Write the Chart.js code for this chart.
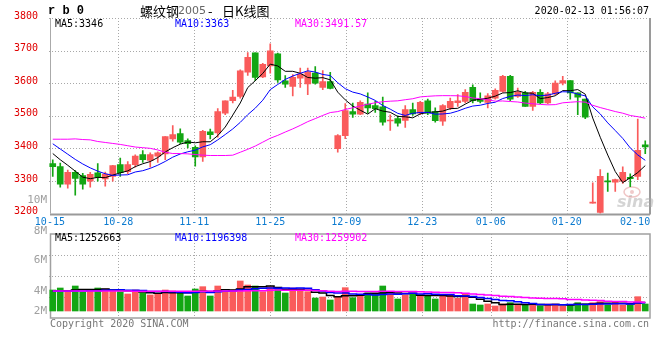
<!DOCTYPE html>
<html>
<head>
<meta charset="utf-8">
<script src="https://cdn.jsdelivr.net/npm/chart.js@4.4.1/dist/chart.umd.min.js"></script>
<style>
    html, body { margin: 0; padding: 0; background: #fff; }
    #wrap { position: relative; width: 660px; height: 360px; overflow: hidden; }
    #priceChart { position: absolute; left: 0; top: 0; }
    #volChart { position: absolute; left: 0; top: 190px; }
</style>
</head>
<body>
<div id="wrap">
    <canvas id="priceChart" width="660" height="230"></canvas>
    <canvas id="volChart" width="660" height="170"></canvas>
</div>
<script>
const dates = [
    "10-15","10-16","10-17","10-18","10-21","10-22","10-23","10-24","10-25","10-28","10-29","10-30","10-31",
    "11-01","11-04","11-05","11-06","11-07","11-08","11-11","11-12","11-13","11-14","11-15","11-18","11-19",
    "11-20","11-21","11-22","11-25","11-26","11-27","11-28","11-29",
    "12-02","12-03","12-04","12-05","12-06","12-09","12-10","12-11","12-12","12-13","12-16","12-17","12-18",
    "12-19","12-20","12-23","12-24","12-25","12-26","12-27","12-30","12-31",
    "01-02","01-03","01-06","01-07","01-08","01-09","01-10","01-13","01-14","01-15","01-16","01-17","01-20",
    "01-21","01-22","01-23",
    "02-03","02-04","02-05","02-06","02-07","02-10","02-11","02-12"
];
const tickDates = ["10-15","10-28","11-11","11-25","12-09","12-23","01-06","01-20","02-10"];

const openP = [
    3353,3344,3290,3326,3316,3299,3325,3306,3314,3350,3328,3350,3381,3363,3376,3383,3429,3445,3424,3403,
    3374,3451,3447,3508,3546,3559,3634,3693,3619,3653,3690,3607,3590,3615,3598,3631,3587,3605,3399,3439,
    3513,3505,3536,3531,3527,3484,3491,3486,3519,3508,3546,3513,3483,3524,3540,3544,3587,3551,3541,3554,
    3575,3621,3559,3570,3529,3572,3539,3567,3600,3608,3570,3551,3232,3203,3300,3296,3299,3311,3314,3411
];
const highP = [
    3365,3355,3333,3332,3323,3326,3353,3327,3348,3370,3359,3380,3393,3386,3389,3436,3470,3460,3429,3408,
    3455,3459,3522,3546,3578,3641,3694,3693,3661,3721,3692,3623,3626,3646,3646,3651,3639,3633,3442,3537,
    3539,3546,3570,3544,3557,3503,3500,3531,3539,3544,3551,3524,3534,3554,3565,3580,3595,3570,3568,3583,
    3624,3624,3585,3575,3575,3580,3572,3607,3621,3608,3570,3551,3294,3335,3324,3306,3343,3322,3490,3423
];
const lowP = [
    3314,3281,3278,3256,3275,3281,3299,3284,3299,3314,3322,3342,3357,3342,3357,3365,3422,3414,3401,3345,
    3360,3429,3434,3503,3539,3554,3624,3608,3617,3631,3602,3587,3561,3587,3565,3597,3580,3582,3388,3430,
    3495,3503,3508,3510,3471,3455,3468,3464,3501,3503,3503,3480,3470,3519,3529,3539,3539,3539,3524,3551,
    3572,3546,3556,3529,3516,3537,3536,3565,3595,3551,3503,3491,3232,3200,3268,3268,3292,3282,3304,3384
];
const closeP = [
    3344,3290,3326,3308,3290,3320,3311,3321,3347,3325,3350,3376,3365,3381,3386,3436,3442,3419,3414,3374,
    3452,3442,3513,3546,3557,3638,3679,3618,3658,3699,3610,3597,3618,3628,3634,3600,3605,3584,3439,3516,
    3505,3541,3524,3522,3480,3486,3477,3519,3506,3541,3508,3485,3531,3544,3546,3572,3546,3544,3561,3578,
    3621,3551,3572,3529,3572,3539,3567,3600,3608,3570,3557,3496,3233,3314,3297,3304,3326,3307,3394,3404
];

const ma5 = [
    3384,3365,3348,3330,3311.6,3306.8,3311,3310,3317.8,3324.8,3330.8,3343.8,3352.6,3359.4,3371.6,3388.8,
    3402,3412.8,3419.4,3417,3420.2,3420.2,3439,3465.4,3502,3539.2,3586.6,3607.6,3630,3658.4,3652.8,3636.4,
    3636.4,3630.4,3617.4,3615.4,3617,3610.2,3572.4,3548.8,3529.8,3517,3505,3521.6,3514.4,3510.6,3497.8,
    3496.8,3493.6,3505.8,3510.2,3511.8,3514.2,3521.8,3522.8,3535.6,3547.8,3550.4,3553.8,3560.2,3570,3571,
    3576.6,3570.2,3569,3552.6,3555.8,3561.4,3577.2,3576.8,3580.4,3566.2,3492.8,3434,3379.4,3328.8,3294.8,
    3309.6,3325.6,3347
];
const ma10 = [
    3414,3398,3382,3366,3352,3340,3330,3322,3317,3318.2,3318.8,3327.4,3331.3,3338.6,3348.2,3359.8,3372.9,
    3382.7,3389.4,3394.3,3404.5,3411.1,3425.9,3442.4,3459.5,3479.7,3503.4,3523.3,3547.7,3580.2,3596,3611.5,
    3622,3630.2,3637.9,3634.1,3626.7,3623.3,3601.4,3583.1,3572.6,3567,3557.6,3547,3531.6,3520.2,3507.4,
    3500.9,3507.6,3510.1,3510.4,3504.8,3505.5,3507.7,3514.3,3522.9,3529.8,3532.3,3537.8,3541.5,3552.8,
    3559.4,3563.5,3562,3564.6,3561.3,3563.4,3569,3573.7,3572.9,3566.5,3561,3527.1,3505.6,3478.1,3454.6,
    3430.5,3401.2,3379.8,3363.2
];
const ma30 = [
    3428,3428,3428,3429,3427,3426,3421,3418,3415,3412,3408,3404,3402,3400,3395,3388,3384,3384,3383,3381,
    3379,3378,3378,3378,3379,3388,3397,3407,3419,3430.9,3439.8,3450,3459.7,3470.4,3481.9,3491.2,3501,
    3509.8,3512.8,3519.2,3524.4,3529.9,3535.2,3539.9,3543,3544.7,3545.8,3549.2,3552.2,3557.8,3559.7,3561.1,
    3561.7,3561.6,3561.3,3559.1,3554.6,3552.2,3548.9,3544.9,3545.3,3543.7,3542.2,3538.9,3536.8,3534.8,
    3533.5,3534.1,3539.7,3541.5,3543.2,3541.7,3532,3525.1,3519,3512.9,3507.9,3500.8,3497.1,3492.5
];

// volume, in millions of lots
const volumeM = [
    3.15,3.45,2.90,3.75,2.80,3.15,3.45,3.30,3.00,2.90,2.55,3.15,2.65,2.40,2.55,3.15,3.00,2.65,2.25,3.30,
    3.65,2.25,3.75,2.90,3.15,4.50,3.90,3.75,2.90,3.65,3.40,2.70,3.45,3.05,2.90,1.95,2.10,1.65,2.15,3.50,
    2.00,2.50,2.75,2.50,3.75,2.65,1.80,2.40,2.65,2.40,2.30,1.80,2.40,2.40,1.90,2.50,1.05,0.90,1.05,0.75,
    1.05,1.25,0.90,0.90,1.00,0.80,1.05,1.05,0.75,0.90,1.25,1.05,1.25,1.40,0.90,1.30,0.90,0.90,2.15,1.05
];
const volMa5 = [
    3.0,3.0,3.05,3.15,3.21,3.21,3.21,3.29,3.14,3.16,3.04,2.98,2.85,2.73,2.66,2.78,2.75,2.75,2.72,2.87,
    2.97,2.82,3.04,3.17,3.14,3.31,3.64,3.64,3.64,3.74,3.52,3.28,3.22,3.25,3.10,2.81,2.69,2.33,2.15,2.27,
    2.28,2.36,2.58,2.65,2.70,2.83,2.69,2.62,2.65,2.38,2.31,2.31,2.31,2.26,2.16,2.20,2.05,1.75,1.48,1.25,
    0.96,1.00,1.00,0.97,1.02,0.97,0.93,0.96,0.93,0.91,1.00,1.00,1.04,1.17,1.17,1.18,1.15,1.08,1.23,1.26
];
const volMa10 = [
    2.95,2.95,2.95,3.0,3.0,3.05,3.05,3.1,3.15,3.19,3.13,3.10,3.07,2.94,2.91,2.91,2.87,2.80,2.73,2.77,
    2.88,2.79,2.90,2.95,3.01,3.14,3.23,3.34,3.41,3.44,3.42,3.46,3.43,3.45,3.42,3.17,2.99,2.78,2.70,2.69,
    2.55,2.53,2.46,2.40,2.49,2.56,2.53,2.60,2.65,2.54,2.57,2.50,2.47,2.46,2.27,2.26,2.18,2.03,1.87,1.71,
    1.58,1.53,1.38,1.23,1.14,0.97,0.97,0.98,0.95,0.97,0.99,0.97,1.00,1.05,1.04,1.09,1.08,1.06,1.20,1.22
];
const volMa30 = [
    3.0,3.0,3.0,3.0,3.0,3.0,3.0,3.0,3.0,3.0,3.0,2.95,2.95,2.95,2.95,2.95,2.95,2.95,2.95,2.95,
    2.95,3.0,3.0,3.0,3.0,3.0,3.05,3.05,3.05,3.13,3.14,3.11,3.13,3.11,3.11,3.07,3.03,2.97,2.94,2.96,
    2.95,2.92,2.93,2.93,2.97,2.95,2.91,2.91,2.92,2.89,2.84,2.83,2.78,2.77,2.73,2.66,2.56,2.47,2.41,2.31,
    2.23,2.18,2.10,2.03,1.96,1.93,1.89,1.87,1.82,1.74,1.71,1.66,1.61,1.58,1.48,1.44,1.41,1.36,1.34,1.30
];

const priceMA = ["MA5:3346", "MA10:3363", "MA30:3491.57"];
const volMA = ["MA5:1252663", "MA10:1196398", "MA30:1259902"];
const volLabels = ["10M", "8M", "6M", "4M", "2M"];

const RED = "#fa5b5b";
const GREEN = "#13a613";
const MA_COLORS = ["#000000", "#0000ff", "#ff00ff"];
const MONO = '"DejaVu Sans Mono", monospace';
const candleColors = closeP.map((c, i) => (c >= openP[i] ? RED : GREEN));
const tickIdx = tickDates.map((d) => dates.indexOf(d));
const gridIdx = tickIdx.slice(1, -1);

// sina places its date rules on a slightly wider pitch than the candles
const ruleX = (x, i) => x.getPixelForValue(i) - 2.85 + 0.1 * i;

const dottedLines = (ctx, segs) => {
    ctx.save();
    ctx.strokeStyle = "#a8a8a8";
    ctx.lineWidth = 1;
    ctx.setLineDash([1, 2]);
    ctx.beginPath();
    segs.forEach(([x1, y1, x2, y2]) => { ctx.moveTo(x1, y1); ctx.lineTo(x2, y2); });
    ctx.stroke();
    ctx.restore();
};

const writeText = (ctx, text, x, y, font, color, align = "left") => {
    ctx.font = font;
    ctx.fillStyle = color;
    ctx.textAlign = align;
    ctx.textBaseline = "middle";
    ctx.fillText(text, x, y);
};

const priceFrame = {
    id: "priceFrame",
    beforeDatasetsDraw(chart) {
        const { ctx, chartArea: a, scales: { x, y } } = chart;
        const segs = [[a.left, a.top + 0.5, a.right, a.top + 0.5]];
        y.ticks.forEach((t) => {
            if (t.value > y.min && t.value < y.max) {
                const py = Math.round(y.getPixelForValue(t.value)) + 0.5;
                segs.push([a.left, py, a.right, py]);
            }
        });
        gridIdx.forEach((i) => {
            const px = Math.round(ruleX(x, i)) + 0.5;
            segs.push([px, a.top, px, a.bottom]);
        });
        dottedLines(ctx, segs);

        ctx.save();
        ctx.strokeStyle = "#aaaaaa";
        ctx.lineWidth = 1;
        ctx.beginPath();
        ctx.moveTo(a.left + 1.5, a.top);
        ctx.lineTo(a.left + 1.5, a.bottom);
        ctx.stroke();
        ctx.strokeStyle = "#9a9a9a";
        ctx.lineWidth = 2;
        ctx.beginPath();
        ctx.moveTo(a.left + 1, a.bottom + 1);
        ctx.lineTo(a.right + 1, a.bottom + 1);
        ctx.moveTo(a.right + 1, a.top);
        ctx.lineTo(a.right + 1, a.bottom + 1);
        ctx.stroke();

        // sina watermark
        ctx.fillStyle = "rgba(170,170,170,0.5)";
        ctx.font = 'italic bold 16px "DejaVu Sans"';
        ctx.textAlign = "left";
        ctx.textBaseline = "alphabetic";
        ctx.fillText("sina", 617, 207);
        ctx.strokeStyle = "rgba(225,150,150,0.55)";
        ctx.lineWidth = 1.5;
        ctx.beginPath();
        ctx.ellipse(632, 192, 8, 5, 0, 0, Math.PI * 2);
        ctx.stroke();
        ctx.fillStyle = "rgba(225,150,150,0.5)";
        ctx.beginPath();
        ctx.arc(632, 192, 2, 0, Math.PI * 2);
        ctx.fill();
        ctx.restore();
    },
    afterDraw(chart) {
        const { ctx, chartArea: a, scales: { x } } = chart;
        ctx.save();
        writeText(ctx, "r b 0", 48, 11, 'bold 12px "Liberation Mono", monospace', "#000");
        writeText(ctx, "螺纹钢", 140, 11, '13px "Noto Sans CJK SC"', "#000");
        writeText(ctx, "2005", 178, 11, '11px "DejaVu Sans"', "#666");
        writeText(ctx, "-", 208, 11, '13px "Noto Sans CJK SC"', "#000");
        writeText(ctx, "日K线图", 222, 11, '13px "Noto Sans CJK SC"', "#000");
        writeText(ctx, "2020-02-13 01:56:07", 649, 11, `10px ${MONO}`, "#000", "right");
        [55, 175, 295].forEach((px, k) => writeText(ctx, priceMA[k], px, 24, `10px ${MONO}`, MA_COLORS[k]));
        tickIdx.forEach((i) => writeText(ctx, dates[i], ruleX(x, i), a.bottom + 8.5, `10px ${MONO}`, "#0c7bd0", "center"));
        ctx.restore();
    }
};

const volFrame = {
    id: "volFrame",
    beforeDatasetsDraw(chart) {
        const { ctx, chartArea: a, scales: { x } } = chart;
        const h = a.bottom - a.top;
        const segs = [1, 2, 3].map((k) => {
            const py = Math.round(a.top + (h * k) / 4) + 0.5;
            return [a.left, py, a.right, py];
        });
        gridIdx.forEach((i) => {
            const px = Math.round(ruleX(x, i)) + 0.5;
            segs.push([px, a.top, px, a.bottom]);
        });
        dottedLines(ctx, segs);
        ctx.save();
        ctx.strokeStyle = "#a0a0a0";
        ctx.lineWidth = 1.5;
        ctx.strokeRect(a.left + 1.5, a.top, a.right - a.left - 0.5, h);
        ctx.restore();
    },
    afterDraw(chart) {
        const { ctx, chartArea: a } = chart;
        ctx.save();
        [55, 175, 295].forEach((x, k) => writeText(ctx, volMA[k], x, a.top + 4.5, `10px ${MONO}`, MA_COLORS[k]));
        [-34, -3, 26, 57, 77].forEach((dy, k) => writeText(ctx, volLabels[k], 47, a.top + dy, `11px ${MONO}`, "#a0a0a0", "right"));
        writeText(ctx, "Copyright 2020 SINA.COM", 50, a.bottom + 6.5, `10px ${MONO}`, "#777");
        writeText(ctx, "http://finance.sina.com.cn", 649, a.bottom + 6.5, `10px ${MONO}`, "#777", "right");
        ctx.restore();
    }
};

const maLine = (label, data, color, extra = {}) => ({
    type: "line",
    label,
    data,
    borderColor: color,
    borderWidth: 1,
    pointRadius: 0,
    tension: 0,
    order: 0,
    ...extra
});

new Chart(document.querySelector("#priceChart"), {
    type: "bar",
    data: {
        labels: dates,
        datasets: [
            {
                label: "wick",
                data: lowP.map((l, i) => [l, highP[i]]),
                backgroundColor: candleColors,
                barThickness: 1,
                grouped: false,
                order: 3
            },
            {
                label: "body",
                data: openP.map((o, i) => [o, closeP[i]]),
                backgroundColor: candleColors,
                barThickness: 6,
                minBarLength: 1,
                grouped: false,
                order: 2
            },
            maLine("MA30", ma30, MA_COLORS[2]),
            maLine("MA10", ma10, MA_COLORS[1]),
            maLine("MA5", ma5, MA_COLORS[0])
        ]
    },
    options: {
        responsive: false,
        animation: false,
        events: [],
        layout: { padding: { top: 18, right: 11, left: 0, bottom: 0 } },
        plugins: { legend: { display: false }, tooltip: { enabled: false } },
        scales: {
            x: {
                offset: true,
                grid: { display: false },
                border: { display: false },
                ticks: { display: false },
                afterFit: (s) => { s.height = 16.5; }
            },
            y: {
                min: 3200,
                max: 3800,
                grid: { display: false },
                border: { display: false },
                ticks: {
                    stepSize: 100,
                    padding: 3,
                    labelOffset: -2,
                    color: "#e00000",
                    font: { family: MONO, size: 10 },
                    callback: (v) => String(v)
                },
                afterFit: (s) => { s.width = 49; }
            }
        }
    },
    plugins: [priceFrame]
});

new Chart(document.querySelector("#volChart"), {
    type: "bar",
    data: {
        labels: dates,
        datasets: [
            {
                label: "volume",
                data: volumeM,
                backgroundColor: candleColors,
                barThickness: 6,
                order: 2
            },
            maLine("MA30", volMa30, MA_COLORS[2], { stepped: "middle", borderWidth: 1.5 }),
            maLine("MA10", volMa10, MA_COLORS[1], { stepped: "middle", borderWidth: 1.5 }),
            maLine("MA5", volMa5, MA_COLORS[0], { stepped: "middle", borderWidth: 1.5 })
        ]
    },
    options: {
        responsive: false,
        animation: false,
        events: [],
        layout: { padding: { top: 44, right: 11, left: 49, bottom: 42 } },
        plugins: { legend: { display: false }, tooltip: { enabled: false } },
        scales: {
            x: { display: false, offset: true },
            y: { display: false, min: -1.05, max: 11.55 }
        }
    },
    plugins: [volFrame]
});
</script>
</body>
</html>
